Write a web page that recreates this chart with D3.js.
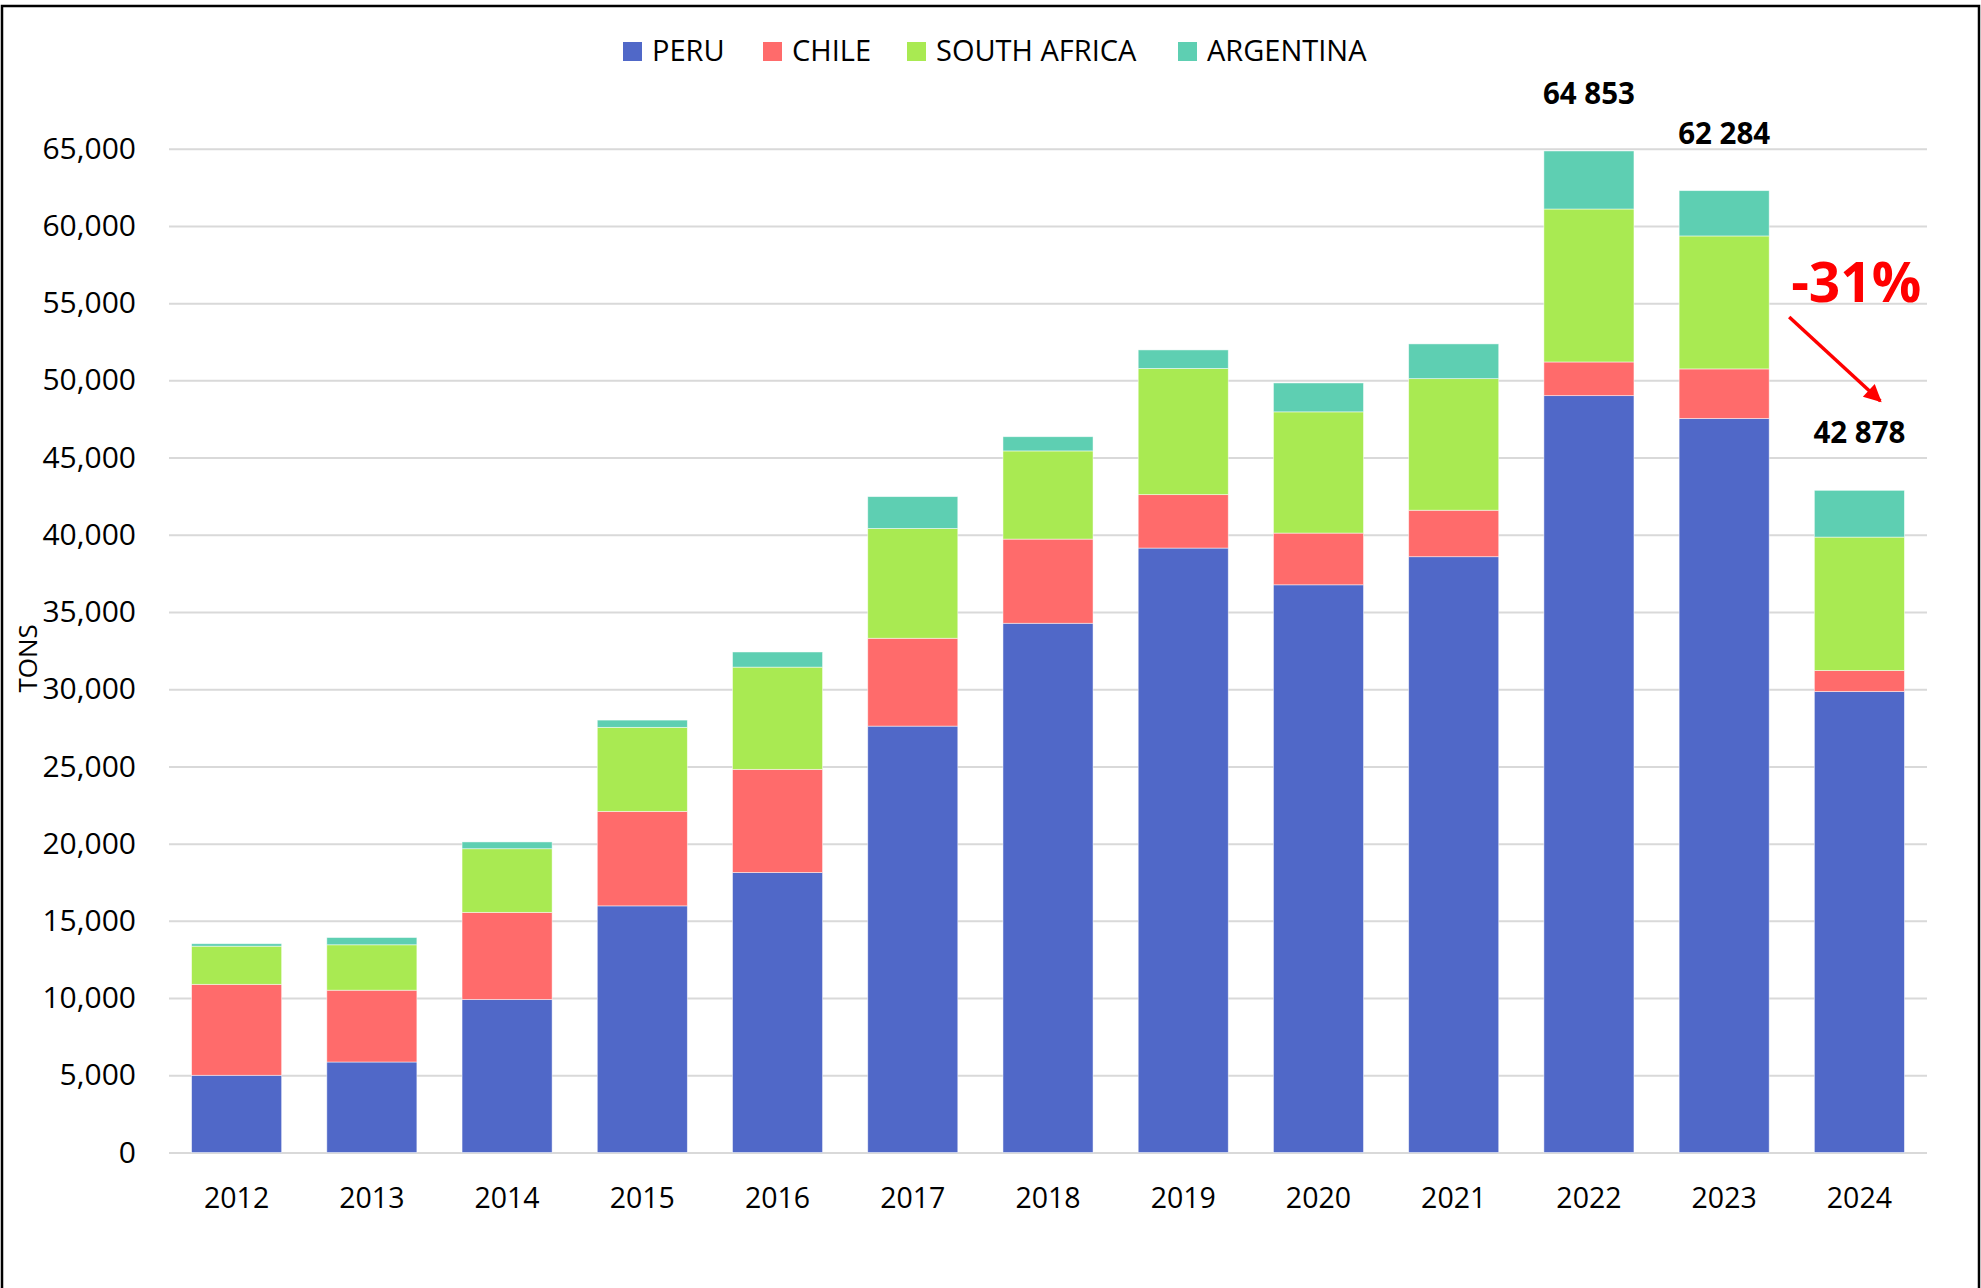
<!DOCTYPE html>
<html>
<head>
<meta charset="utf-8">
<script src="https://cdn.jsdelivr.net/npm/d3@7"></script>
<style>
  body { margin: 0; background: #fff; }
  text { font-family: 'Open Sans', 'Noto Sans', sans-serif; }
</style>
</head>
<body>
<div class="chart"></div>
<script>
let years = ['2012', '2013', '2014', '2015', '2016', '2017', '2018', '2019', '2020', '2021', '2022', '2023', '2024']
let countries = ['PERU', 'CHILE', 'SOUTH AFRICA', 'ARGENTINA']

let peru = [5000, 5860, 9910, 15970, 18130, 27610, 34270, 39140, 36760, 38580, 49010, 47530, 29850]
let chile = [5890, 4650, 5640, 6120, 6680, 5690, 5450, 3460, 3350, 3010, 2180, 3210, 1360]
let southAfrica = [2470, 2940, 4120, 5440, 6620, 7110, 5710, 8170, 7850, 8520, 9905, 8610, 8640]
let argentina = [160, 470, 440, 470, 980, 2060, 920, 1200, 1870, 2250, 3758, 2934, 3028]

let yTicks = [0, 5000, 10000, 15000, 20000, 25000, 30000, 35000, 40000, 45000, 50000, 55000, 60000, 65000]
let labeledYears = ['2022', '2023', '2024']
let changeLabel = '-31%'

const width = 1981
const height = 1288
const margin = { top: 148.7, right: 54, bottom: 135.5, left: 169 }

let colors = d3.scaleOrdinal()
	.domain(countries)
	.range(['#5068c8', '#ff6b6b', '#a9ea52', '#5ecfb2'])

let rows = years.map((y, i) => {
	return { year: y, 'PERU': peru[i], 'CHILE': chile[i], 'SOUTH AFRICA': southAfrica[i], 'ARGENTINA': argentina[i] }
})

let series = d3.stack().keys(countries)(rows)

let svg = d3.select('.chart')
	.append('svg')
	.attr('width', width)
	.attr('height', height)

let x = d3.scaleBand()
	.domain(years)
	.range([margin.left, width - margin.right])
	.paddingInner(0.334)
	.paddingOuter(0.167)

let y = d3.scaleLinear()
	.domain([0, 65000])
	.range([height - margin.bottom, margin.top])

// frame around the chart
svg.append('rect')
	.attr('x', 2)
	.attr('y', 6)
	.attr('width', width - 4)
	.attr('height', height + 20)
	.attr('fill', 'none')
	.attr('stroke', '#000')
	.attr('stroke-width', 2.5)

let yAxis = svg.append('g')
	.attr('transform', 'translate(' + margin.left + ',0)')
	.call(d3.axisLeft(y)
		.tickValues(yTicks)
		.tickFormat(d3.format(','))
		.tickSize(-(width - margin.left - margin.right))
		.tickPadding(33))

yAxis.select('.domain').remove()
yAxis.selectAll('.tick line')
	.attr('stroke', '#d9d9d9')
	.attr('stroke-width', 2)
yAxis.selectAll('.tick text')
	.attr('fill', '#000')
	.style('font-size', '30px')
	.style('font-family', "'Open Sans', sans-serif")

svg.append('g')
	.selectAll('g')
	.data(series)
	.enter().append('g')
	.attr('fill', (d) => {
		return colors(d.key)
	})
	.selectAll('rect')
	.data((d) => {
		return d
	})
	.enter().append('rect')
	.attr('x', (d) => {
		return x(d.data.year)
	})
	.attr('y', (d) => {
		return y(d[1])
	})
	.attr('width', x.bandwidth())
	.attr('height', (d) => {
		return y(d[0]) - y(d[1])
	})
	.attr('stroke', '#fff')
	.attr('stroke-width', 0.8)
	.attr('stroke-opacity', 0.6)

let xAxis = svg.append('g')
	.attr('transform', 'translate(0,' + (height - margin.bottom) + ')')
	.call(d3.axisBottom(x).tickSize(0).tickPadding(35))

xAxis.select('.domain').remove()
xAxis.selectAll('.tick text')
	.attr('fill', '#000')
	.style('font-size', '28.5px')
	.style('font-family', "'Open Sans', sans-serif")

// total labels above the last bars
let totals = rows.map((r) => {
	return { year: r.year, total: d3.sum(countries, (c) => r[c]) }
})
let spaceFormat = (v) => d3.format(',')(v).replace(/,/g, ' ')

svg.append('g')
	.selectAll('text')
	.data(totals.filter((d) => labeledYears.includes(d.year)))
	.enter().append('text')
	.attr('x', (d) => {
		return x(d.year) + x.bandwidth() / 2
	})
	.attr('y', (d) => {
		return y(d.total) - 47
	})
	.attr('text-anchor', 'middle')
	.style('font-size', '29.5px')
	.style('font-weight', 'bold')
	.text((d) => {
		return spaceFormat(d.total)
	})

// change annotation between 2023 and 2024
let last = totals[totals.length - 1]
let prev = totals[totals.length - 2]
let arrowX0 = x(prev.year) + x.bandwidth() + 20
let arrowX1 = x(last.year) + x.bandwidth() / 2 + 21

svg.append('defs').append('marker')
	.attr('id', 'arrowhead')
	.attr('viewBox', '0 0 10 10')
	.attr('refX', 9)
	.attr('refY', 5)
	.attr('markerWidth', 6)
	.attr('markerHeight', 5)
	.attr('markerUnits', 'strokeWidth')
	.attr('orient', 'auto')
	.append('path')
	.attr('d', 'M0,0 L10,5 L0,10 Z')
	.attr('fill', '#ff0000')

svg.append('line')
	.attr('x1', arrowX0)
	.attr('y1', y(54100))
	.attr('x2', arrowX1)
	.attr('y2', y(48660))
	.attr('stroke', '#ff0000')
	.attr('stroke-width', 3.5)
	.attr('marker-end', 'url(#arrowhead)')

svg.append('text')
	.attr('x', arrowX0 + 2)
	.attr('y', y(55070))
	.attr('fill', '#ff0000')
	.style('font-size', '55px')
	.style('font-weight', 'bold')
	.text(changeLabel)

// axis title
svg.append('text')
	.attr('transform', 'translate(28,' + y(32000) + ') rotate(-90)')
	.attr('text-anchor', 'middle')
	.attr('dy', '0.35em')
	.style('font-size', '26px')
	.text('TONS')

// legend
let legendX = [623, 763, 907, 1178]
let legend = svg.append('g')
	.selectAll('g')
	.data(countries)
	.enter().append('g')
	.attr('transform', (d, i) => {
		return 'translate(' + legendX[i] + ',42)'
	})

legend.append('rect')
	.attr('width', 19)
	.attr('height', 19)
	.attr('fill', (d) => {
		return colors(d)
	})

legend.append('text')
	.attr('x', 29)
	.attr('y', 19)
	.style('font-size', '29px')
	.text((d) => {
		return d
	})
</script>
</body>
</html>
